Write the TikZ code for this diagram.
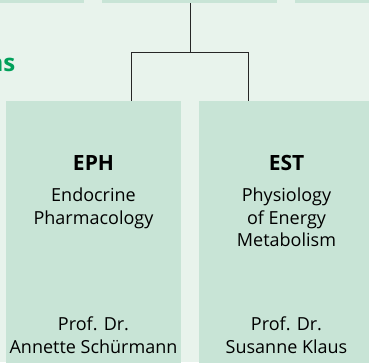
\documentclass[tikz,border=0pt]{standalone}
\usepackage{fontspec}
\setmainfont{Open Sans}
\usetikzlibrary{positioning}
\definecolor{bgmint}{RGB}{232,243,236}
\definecolor{boxmint}{RGB}{200,228,214}
\definecolor{headgreen}{RGB}{0,160,90}
\begin{document}
\begin{tikzpicture}[x=1pt, y=-1pt,
    unit/.style={fill=boxmint, draw=none, minimum width=175pt, inner sep=0pt},
    head/.style={font=\fontsize{21}{25}\selectfont\bfseries, anchor=base, inner sep=0pt},
    txt/.style={font=\fontsize{18}{22.5}\selectfont, align=center, anchor=base, inner sep=0pt},
    link/.style={draw=black!85, line width=0.9pt}]
    % Frame
    \fill[bgmint] (0,0) rectangle (369,362);
    \useasboundingbox (0,0) rectangle (369,362);
    \clip (0,0) rectangle (369,362);

    % Upper row
    \node[unit, minimum height=40pt] (left) at (-3.5,-17) {};
    \node[unit, minimum height=40pt] (board) at (189.5,-17) {};
    \node[unit, minimum height=40pt] (right) at (382.5,-17) {};
    \node[font=\fontsize{24}{28}\selectfont\bfseries, text=headgreen, anchor=base east, inner sep=0pt] (section) at (15.5,71.5) {ns};

    % Departments
    \node[unit, minimum height=280pt] (eph) at (93.5,241) {};
    \node[unit, minimum height=280pt] (est) at (286.5,241) {};

    % Tree
    \coordinate (fork) at (190,52.5);
    \draw[link] (board.south -| fork) -- (fork);
    \draw[link] (fork) -| ([xshift=38pt]eph.north);
    \draw[link] (fork) -| ([xshift=-38pt]est.north);

    % Labels (base = last line)
    \node[head] (ephhead) at (93.5,170) {EPH};
    \node[txt] (ephname) at (93.5,224) {Endocrine\\Pharmacology};
    \node[txt] (ephprof) at (93.5,353) {Prof. Dr.\\Annette Schürmann};
    \node[head] (esthead) at (286.5,170) {EST};
    \node[txt] (estname) at (286.5,246.5) {Physiology\\of Energy\\Metabolism};
    \node[txt] (estprof) at (286.5,353) {Prof. Dr.\\Susanne Klaus};
\end{tikzpicture}
\end{document}
